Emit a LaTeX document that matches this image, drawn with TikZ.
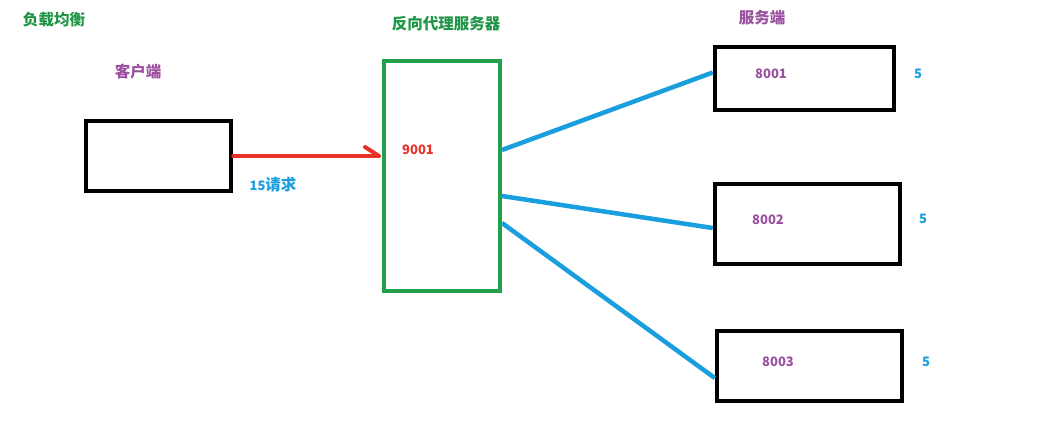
\documentclass[tikz,border=0pt]{standalone}
\usepackage{fontspec}
\setmainfont{Noto Sans CJK SC}
\usetikzlibrary{calc}
\definecolor{tgreen}{RGB}{30,150,70}
\definecolor{bgreen}{RGB}{35,160,75}
\definecolor{tpurple}{RGB}{155,80,160}
\definecolor{tblue}{RGB}{25,158,222}
\definecolor{tred}{RGB}{232,50,40}
\begin{document}
\begin{tikzpicture}[x=1pt,y=-1pt,
  blackbox/.style={draw=black,line width=4.5pt,inner sep=0pt},
  proxybox/.style={draw=bgreen,line width=4pt,inner sep=0pt},
  lbl/.style={font=\fontsize{13}{15}\selectfont\bfseries,inner sep=0pt},
  cjk/.style={font=\fontsize{15.5}{17}\selectfont\bfseries,inner sep=0pt},
  link/.style={draw=tblue,line width=4.5pt},
  req/.style={draw=tred,line width=4pt,line cap=round}]
\fill[white] (0,0) rectangle (1054,422);
\useasboundingbox (0,0) rectangle (1054,422);

% titles
\node[cjk,text=tgreen] (t1) at (54,20) {负载均衡};
\node[cjk,text=tpurple] (t2) at (138,72) {客户端};
\node[cjk,text=tgreen] (t3) at (446,24) {反向代理服务器};
\node[cjk,text=tpurple] (t4) at (762,18) {服务端};

% boxes
\node[blackbox,minimum width=145pt,minimum height=70pt] (c) at (158.5,156) {};
\node[proxybox,minimum width=116pt,minimum height=230pt] (p) at (442,176) {};
\node[blackbox,minimum width=179pt,minimum height=63pt] (s1) at (804.5,78.5) {};
\node[blackbox,minimum width=185pt,minimum height=80pt] (s2) at (807.5,224) {};
\node[blackbox,minimum width=185pt,minimum height=70pt] (s3) at (809.5,366) {};

% labels inside / beside
\node[lbl,text=tred] (n9001) at (418,150) {9001};
\node[lbl,text=tblue] (nreq) at (273,185) {15{\fontsize{15.5}{17}\selectfont 请求}};
\node[lbl,text=tpurple] (n8001) at (771,74) {8001};
\node[lbl,text=tpurple] (n8002) at (768,220) {8002};
\node[lbl,text=tpurple] (n8003) at (778,362) {8003};
\node[lbl,text=tblue] (w1) at (918,74) {5};
\node[lbl,text=tblue] (w2) at (923,219) {5};
\node[lbl,text=tblue] (w3) at (926,362) {5};

% request arrow from client to proxy
\coordinate (tip) at ($(p.west|-c.east)+(-3,0)$);
\draw[req] (c.east) -- (tip);
\draw[req] (tip) -- ++(-14,-9);

% proxy to servers
\draw[link] ($(p.north east)+(0,91)$) -- ($(s1.west)+(0,-6)$);
\draw[link] ($(p.north east)+(0,137)$) -- ($(s2.west)+(0,4)$);
\draw[link] ($(p.north east)+(0,164)$) -- ($(s3.west)+(0,12)$);
\end{tikzpicture}
\end{document}
